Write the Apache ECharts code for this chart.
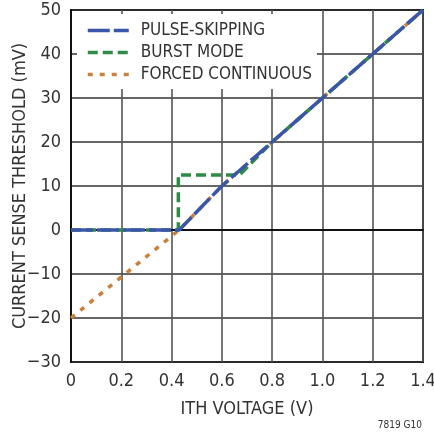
<!DOCTYPE html>
<html><head><meta charset="utf-8">
<script src="https://cdn.jsdelivr.net/npm/echarts@6/dist/echarts.min.js"></script>
<style>html,body{margin:0;padding:0;background:#fff}#c{width:434px;height:435px}</style>
</head><body><div id="c"></div>
<script>
const FONT = "'Liberation Sans Narrow','DejaVu Sans Condensed','Roboto Condensed',sans-serif";
const seriesNames = ['PULSE-SKIPPING', 'BURST MODE', 'FORCED CONTINUOUS'];
const pulseSkipping = [[0, 0], [0.43, 0], [0.6, 10], [0.8, 20], [1.0, 30], [1.2, 40], [1.4, 50]];
const burstMode = [[0, 0], [0.427, 0], [0.427, 12.5], [0.67, 12.5], [0.8, 20], [1.0, 30], [1.2, 40], [1.4, 50]];
const forcedContinuous = [[0, -20], [0.43, 0], [0.6, 10], [0.8, 20], [1.0, 30], [1.2, 40], [1.4, 50]];
const xTicks = [0, 0.2, 0.4, 0.6, 0.8, 1.0, 1.2, 1.4];
const xTickLabels = ['0', '0.2', '0.4', '0.6', '0.8', '1.0', '1.2', '1.4'];
const yTickLabels = {'-30': '\u221230', '-20': '\u221220', '-10': '\u221210'};
const colors = ['#3a56a8', '#2e8a45', '#c8803a'];

const chart = echarts.init(document.getElementById('c'));
chart.setOption({
  animation: false,
  backgroundColor: '#fff',
  grid: {left: 71, right: 11, top: 10, bottom: 73, outerBoundsMode: 'none', containLabel: false,
    show: true, borderColor: '#111', borderWidth: 2, backgroundColor: 'transparent'},
  legend: {
    left: 77, top: 14, padding: [8, 5, 6, 9], orient: 'vertical', itemGap: 5, itemWidth: 41, itemHeight: 14,
    backgroundColor: '#fff',
    data: seriesNames,
    itemStyle: {opacity: 0, color: 'rgba(0,0,0,0)', borderWidth: 0},
    lineStyle: {width: 3.5},
    textStyle: {fontFamily: FONT, fontSize: 17, color: '#333', padding: [0, 0, 0, 7]}
  },
  xAxis: {
    type: 'value', min: 0, max: 1.4, interval: 0.2,
    name: 'ITH VOLTAGE (V)', nameLocation: 'middle', nameGap: 38,
    nameTextStyle: {fontFamily: FONT, fontSize: 18, color: '#333'},
    axisLine: {show: true, lineStyle: {color: '#111', width: 2}},
    axisTick: {show: false},
    axisLabel: {fontFamily: FONT, fontSize: 18, color: '#333', margin: 10,
      formatter: v => { const i = xTicks.findIndex(t => Math.abs(t - v) < 1e-6); return i >= 0 ? xTickLabels[i] : ''; }},
    splitLine: {show: true, lineStyle: {color: '#555', width: 1.6}}
  },
  yAxis: {
    type: 'value', min: -30, max: 50, interval: 10,
    name: 'CURRENT SENSE THRESHOLD (mV)', nameLocation: 'middle', nameGap: 42, nameMoveOverlap: false,
    nameTextStyle: {fontFamily: FONT, fontSize: 18, color: '#333'},
    axisLine: {show: true, lineStyle: {color: '#111', width: 2}},
    axisTick: {show: false},
    axisLabel: {fontFamily: FONT, fontSize: 18, color: '#333', margin: 10,
      formatter: v => yTickLabels[String(v)] || String(v)},
    splitLine: {show: true, lineStyle: {color: '#333', width: 1.6}}
  },
  graphic: [{type: 'text', right: 12, bottom: 5, style: {text: '7819 G10', fontFamily: FONT, fontSize: 10, fill: '#333'}}],
  series: [
    {name: seriesNames[2], type: 'line', data: forcedContinuous, symbol: 'none', z: 2,
      lineStyle: {color: colors[2], width: 3.5, type: [5, 7]}, itemStyle: {color: colors[2]}},
    {name: seriesNames[1], type: 'line', data: burstMode, symbol: 'none', z: 3,
      lineStyle: {color: colors[1], width: 3.5, type: [10, 5]}, itemStyle: {color: colors[1]}},
    {name: seriesNames[0], type: 'line', data: pulseSkipping, symbol: 'none', z: 4,
      lineStyle: {color: colors[0], width: 3.5, type: [22, 4]}, itemStyle: {color: colors[0]}}
  ]
});
</script></body></html>
